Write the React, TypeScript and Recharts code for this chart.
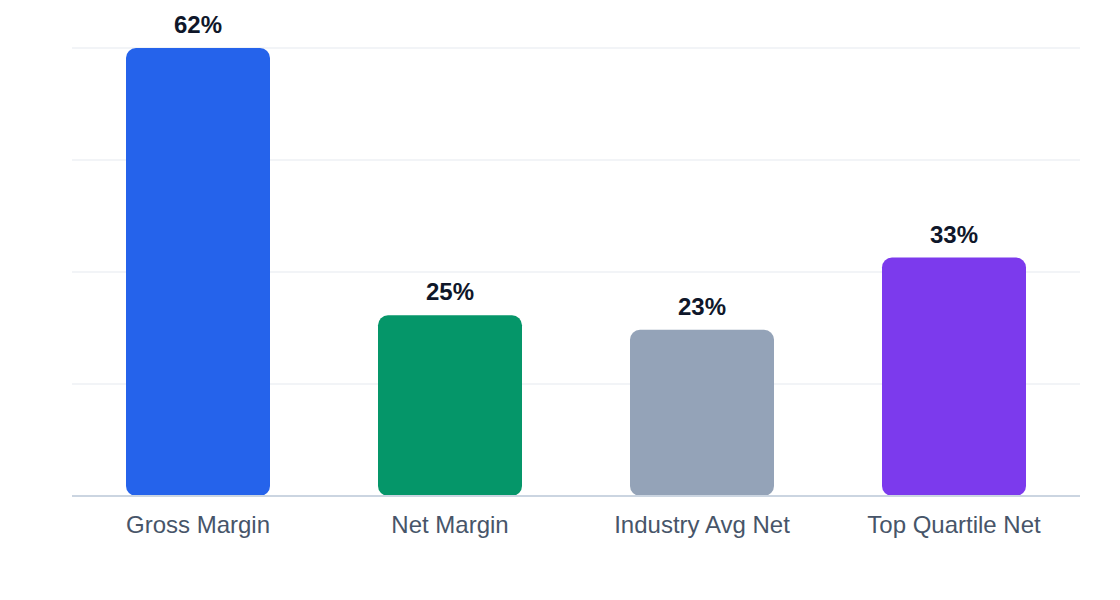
import React from 'react';
import { BarChart, Bar, XAxis, YAxis, CartesianGrid, Cell, LabelList } from 'recharts';

// categories and values
const categories = ['Gross Margin', 'Net Margin', 'Industry Avg Net', 'Top Quartile Net'];
const margins = [62, 25, 23, 33];
const barColors = ['#2563eb', '#059669', '#94a3b8', '#7c3aed'];
const yTicks = [0, 15.5, 31, 46.5, 62];

const data = categories.map((name, i) => ({ name, value: margins[i] }));

const FONT = '"Liberation Sans", Arial, Helvetica, sans-serif';

export default function App() {
  return (
    <div style={{ width: 1104, height: 584, fontFamily: FONT }}>
      <BarChart
        width={1104}
        height={584}
        data={data}
        margin={{ top: 40, right: 32, left: 64, bottom: 56 }}
        barSize={144}
      >
        <CartesianGrid vertical={false} stroke="#eef1f5" strokeWidth={1.5} />
        <XAxis
          dataKey="name"
          axisLine={{ stroke: '#cbd5e1', strokeWidth: 2 }}
          tickLine={false}
          tickMargin={14}
          height={40}
          tick={{ fill: '#475569', fontSize: 24, fontFamily: FONT }}
        />
        <YAxis hide domain={[0, 62]} ticks={yTicks} />
        <Bar dataKey="value" radius={[10, 10, 10, 10]} isAnimationActive={false}>
          {data.map((d, i) => (
            <Cell key={d.name} fill={barColors[i]} />
          ))}
          <LabelList
            dataKey="value"
            position="top"
            offset={15}
            formatter={(v: number) => `${v}%`}
            style={{ fill: '#0f172a', fontSize: 24, fontWeight: 700, fontFamily: FONT }}
          />
        </Bar>
      </BarChart>
    </div>
  );
}
